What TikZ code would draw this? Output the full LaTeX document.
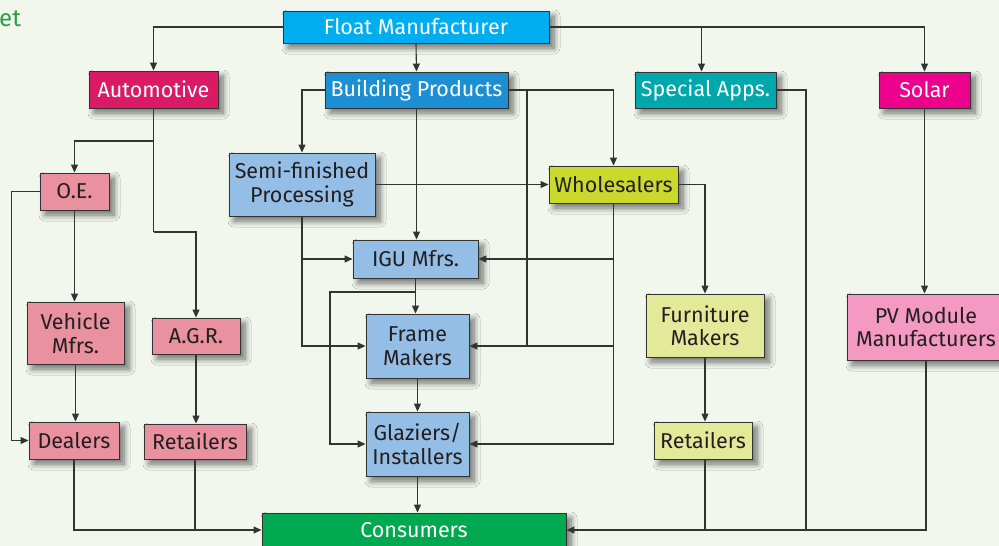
\documentclass[tikz,border=0pt]{standalone}
\usepackage{fontspec}
\setmainfont{Fira Sans}
\usetikzlibrary{arrows.meta,shadows.blur}
\definecolor{bg}{HTML}{F2F7EE}
\definecolor{cfloat}{HTML}{00AEEF}
\definecolor{cauto}{HTML}{DA1A64}
\definecolor{cbp}{HTML}{1B8FD2}
\definecolor{csa}{HTML}{00A8AB}
\definecolor{csolar}{HTML}{EC008C}
\definecolor{cpink}{HTML}{E9919F}
\definecolor{cblue}{HTML}{94BEE6}
\definecolor{cwhole}{HTML}{C9DA2C}
\definecolor{clime}{HTML}{E2EA9A}
\definecolor{cpv}{HTML}{F49AC2}
\definecolor{ccons}{HTML}{00A84F}
\definecolor{cline}{HTML}{333333}
\definecolor{ctext}{HTML}{231F20}
\definecolor{cgreen}{HTML}{2E9E44}
\tikzset{
  box/.style={draw=cline, line width=0.9pt, inner sep=0pt, align=center,
    text=ctext, font=\fontsize{21.5}{23.5}\selectfont,
    blur shadow={shadow xshift=5pt, shadow yshift=-5pt, shadow blur steps=10, shadow opacity=55, shadow blur radius=6pt}},
  wbox/.style={box, text=white},
  conn/.style={draw=cline, line width=1.1pt},
  arr/.style={conn, -{Triangle[length=8pt,width=7pt]}},
}
\begin{document}
\begin{tikzpicture}[x=1pt,y=-1pt]
\fill[bg] (0,0) rectangle (999,546);
\useasboundingbox (0,0) rectangle (999,546);
\clip (0,0) rectangle (999,546);
\node[anchor=base west, text=cgreen, inner sep=0pt, font=\fontsize{24}{26}\selectfont] (title) at (-1,27) {et};

\node[wbox, fill=cfloat, minimum width=266pt, minimum height=32pt] (float) at (416,27) {Float Manufacturer};
\node[wbox, fill=cauto, minimum width=129pt, minimum height=37pt] (auto) at (153.5,89.5) {Automotive};
\node[wbox, fill=cbp, minimum width=183pt, minimum height=36pt] (bp) at (416.5,90) {Building Products};
\node[wbox, fill=csa, minimum width=141pt, minimum height=36pt] (sa) at (705.5,90) {Special Apps.};
\node[wbox, fill=csolar, minimum width=91pt, minimum height=36pt] (solar) at (924.5,90) {Solar};
\node[box, fill=cpink, minimum width=69pt, minimum height=37pt] (oe) at (74.5,191.5) {O.E.};
\node[box, fill=cblue, minimum width=146pt, minimum height=63pt] (semi) at (302,184.5) {Semi-finished\\Processing};
\node[box, fill=cwhole, minimum width=129pt, minimum height=37pt] (whole) at (613.5,184.5) {Wholesalers};
\node[box, fill=cblue, minimum width=125pt, minimum height=38pt] (igu) at (415.5,259) {IGU Mfrs.};
\node[box, fill=cblue, minimum width=103pt, minimum height=64pt] (frame) at (417.5,346) {Frame\\Makers};
\node[box, fill=cblue, minimum width=103pt, minimum height=64pt] (glaz) at (417.5,444) {Glaziers/\\Installers};
\node[wbox, fill=ccons, minimum width=304pt, minimum height=34pt] (cons) at (414,530) {Consumers};
\node[box, fill=cpink, minimum width=97pt, minimum height=62pt] (veh) at (75.5,333) {Vehicle\\Mfrs.};
\node[box, fill=cpink, minimum width=88pt, minimum height=36pt] (agr) at (196,336) {A.G.R.};
\node[box, fill=cpink, minimum width=90pt, minimum height=37pt] (dealers) at (74,440.5) {Dealers};
\node[box, fill=cpink, minimum width=102pt, minimum height=35pt] (retl) at (195,441.5) {Retailers};
\node[box, fill=clime, minimum width=118pt, minimum height=63pt] (furn) at (705,325.5) {Furniture\\Makers};
\node[box, fill=clime, minimum width=98pt, minimum height=37pt] (retr) at (703,440.5) {Retailers};
\node[box, fill=cpv, minimum width=158pt, minimum height=66pt] (pv) at (926,327) {PV Module\\Manufacturers};

\coordinate (ja1) at (153.5,141);
\coordinate (ja2) at (153.5,232);
\coordinate (jb) at (527,90);
\coordinate (ji) at (416,292);
\coordinate (jl) at (330,292);
\coordinate (js) at (806,530);

% float
\draw[arr] (float.west) -| (auto.north);
\draw[arr] (float.south) -- (bp.north);
\draw[arr] (float.east) -| (solar.north);
\draw[arr] ([xshift=-4pt]sa.north |- float.east) -- ([xshift=-4pt]sa.north);
% automotive
\draw[conn] (auto.south) -- (ja2);
\draw[arr] (ja1) -| (oe.north);
\draw[arr] (ja2) -| (agr.north);
\draw[arr] (oe.west) -- ++(-28,0) |- (dealers.west);
\draw[arr] (oe.south) -- (oe.south |- veh.north);
\draw[arr] (veh.south) -- (veh.south |- dealers.north);
\draw[arr] (agr.south) -- (agr.south |- retl.north);
\draw[arr] (dealers.south) |- (cons.west);
\draw[conn] (retl.south) -- (retl.south |- cons.west);
% building products
\draw[arr] (bp.west) -| (semi.north);
\draw[arr] (bp.south) -- (bp.south |- igu.north);
\draw[arr] (bp.east) -| (whole.north);
\draw[conn] (jb) -- (jb |- frame.east);
\draw[arr] (semi.east) -- (whole.west);
\draw[arr] (semi.south) |- (frame.west);
\draw[arr] (semi.south |- igu.west) -- (igu.west);
\draw[arr] (whole.south |- igu.east) -- (igu.east);
\draw[arr] (whole.south |- frame.east) -- (frame.east);
\draw[arr] (whole.south) |- (glaz.east);
\draw[arr] (igu.south) -- (igu.south |- frame.north);
\draw[arr] (ji) -- (jl) |- (glaz.west);
\draw[arr] (frame.south) -- (frame.south |- glaz.north);
\draw[arr] (glaz.south) -- (glaz.south |- cons.north);
% wholesalers
\draw[arr] (whole.east) -| (furn.north);
\draw[arr] (furn.south) -- (furn.south |- retr.north);
\draw[conn] (furn.south |- retr.south) -- (furn.south |- cons.east);
% special apps / solar
\draw[conn] (sa.east) -| (js);
\draw[arr] (solar.south) -- (solar.south |- pv.north);
\draw[arr] (pv.south) |- (cons.east);
\end{tikzpicture}
\end{document}
